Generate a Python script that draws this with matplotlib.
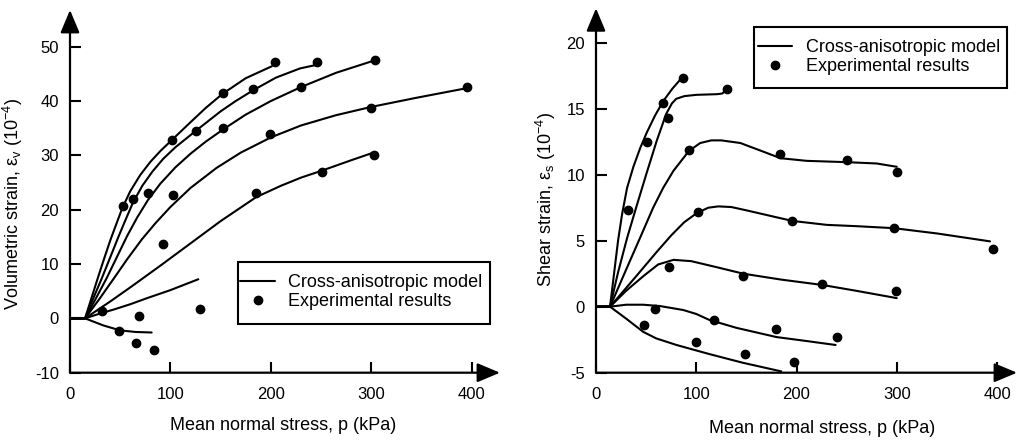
import matplotlib
matplotlib.use("Agg")
import matplotlib.pyplot as plt
from matplotlib.patches import ArrowStyle, Rectangle

plt.rcParams['font.family'] = ['Liberation Sans', 'DejaVu Sans']
plt.rcParams['mathtext.fontset'] = 'custom'
plt.rcParams['mathtext.rm'] = 'Liberation Sans'
plt.rcParams['mathtext.it'] = 'Liberation Sans:italic'
plt.rcParams['axes.unicode_minus'] = False

# ---------------- Left panel: volumetric strain ----------------
vol_A_p = [0, 15, 22, 28, 34, 40, 46, 52.1, 60, 70, 80, 90, 101.3, 120, 135, 151.7, 175, 201]
vol_A_v = [0, 0, 4.1, 7.6, 11.0, 14.3, 17.3, 20.3, 23.4, 26.4, 28.8, 30.8, 32.8, 36.1, 38.7, 41.3, 44.2, 46.4]
vol_B_p = [0, 15, 23, 31.5, 40, 48, 55, 62.7, 72, 82, 93, 105, 125.2, 150, 165, 182.6, 205, 229, 244]
vol_B_v = [0, 0, 3.6, 7.3, 11.2, 14.9, 18.0, 21.3, 24.4, 27.0, 29.4, 31.5, 34.5, 38.1, 40.0, 42.0, 44.3, 46.0, 46.6]
vol_C_p = [0, 15, 25, 36.5, 47, 57, 67, 77.7, 90, 105, 120, 135, 152.7, 175, 200, 230.4, 265, 302]
vol_C_v = [0, 0, 3.4, 7.4, 11.4, 15.2, 18.6, 21.8, 24.8, 27.8, 30.3, 32.5, 34.8, 37.5, 40.0, 42.6, 45.2, 47.4]
vol_D_p = [0, 15, 29, 43.1, 57, 71.4, 85, 100, 120, 146, 170, 200, 230, 265, 299.5, 345, 396]
vol_D_v = [0, 0, 3.5, 7.2, 10.9, 14.5, 17.5, 20.5, 24.0, 27.7, 30.5, 33.3, 35.5, 37.4, 38.9, 40.6, 42.4]
vol_E_p = [0, 15, 40, 60, 90, 120, 150, 185.3, 210, 230, 251, 280, 302]
vol_E_v = [0, 0, 3.1, 5.7, 9.7, 13.8, 17.9, 22.3, 24.4, 25.9, 27.2, 29.1, 30.5]
vol_F_p = [0, 15, 30, 43.1, 60, 76.4, 100, 127.8]
vol_F_v = [0, 0, 0.9, 1.6, 2.6, 3.7, 5.2, 7.2]
vol_G_p = [0, 15, 33.2, 49.8, 65, 81.3]
vol_G_v = [0, 0, -1.3, -2.2, -2.5, -2.6]

vol_exp_p = [52.5, 62.7, 77.7, 101.6, 102.6, 92.9, 125.2, 152.7, 152.7, 182.6, 185.3, 199.2,
             204, 230.4, 245.7, 251, 299.5, 302.8, 303.8, 395.7, 31.5, 69, 129.5, 48.8, 65.7, 84]
vol_exp_v = [20.7, 21.9, 23.0, 32.9, 22.7, 13.6, 34.4, 41.5, 35.1, 42.3, 23.0, 33.9,
             47.1, 42.5, 47.1, 26.9, 38.8, 30.1, 47.5, 42.6, 1.4, 0.4, 1.7, -2.3, -4.5, -5.8]

# ---------------- Right panel: shear strain ----------------
sh_1_p = [0, 14, 18, 22, 26, 31, 37.3, 44, 50.7, 59, 67.3, 76, 84]
sh_1_v = [0, 0, 2.5, 5.0, 7.0, 9.0, 10.6, 12.0, 13.2, 14.5, 15.6, 16.5, 17.2]
sh_2_p = [0, 14, 22, 31, 40, 50, 60.7, 70, 75.7, 80, 88, 100, 120.7, 126, 130.7]
sh_2_v = [0, 0, 2.6, 5.2, 7.5, 10.0, 12.6, 14.6, 15.4, 15.75, 15.95, 16.05, 16.1, 16.15, 16.5]
sh_3_p = [0, 14, 30, 45, 57, 67, 77.3, 92.7, 104, 115, 125, 144, 165, 184, 210, 250, 280, 300]
sh_3_v = [0, 0, 2.8, 5.4, 7.5, 9.0, 10.3, 11.8, 12.4, 12.6, 12.6, 12.4, 11.8, 11.25, 11.05, 10.95, 10.85, 10.6]
sh_4_p = [0, 14, 40, 60, 75, 88, 100.7, 112, 122, 135, 150, 170, 195.7, 230, 260, 297, 340, 393]
sh_4_v = [0, 0, 2.3, 4.1, 5.4, 6.4, 7.1, 7.5, 7.6, 7.55, 7.3, 6.95, 6.5, 6.2, 6.1, 5.95, 5.55, 4.95]
sh_5_p = [0, 14, 30, 47, 62, 77.3, 95, 120, 147, 185, 225.5, 260, 300]
sh_5_v = [0, 0, 1.2, 2.3, 3.2, 3.55, 3.45, 3.0, 2.5, 2.05, 1.65, 1.2, 0.65]
sh_6_p = [0, 14, 30, 47, 63.7, 87, 100, 113, 140, 180, 210, 239]
sh_6_v = [0, 0, 0.15, 0.15, 0.05, -0.25, -0.55, -1.0, -1.6, -2.3, -2.6, -2.9]
sh_7_p = [0, 14, 30, 47, 60, 80.3, 113.6, 146.6, 184.8]
sh_7_v = [0, 0, -0.9, -1.9, -2.4, -2.9, -3.6, -4.25, -4.9]

sh_exp_p = [86.3, 131, 67.3, 72, 50.7, 32.3, 92.7, 184, 250, 300, 101.3, 195.7, 297.3, 396,
            73.3, 146.3, 225.5, 299, 59, 118, 179.3, 240.3, 48.3, 99.7, 148.3, 197.7]
sh_exp_v = [17.3, 16.5, 15.4, 14.3, 12.5, 7.3, 11.9, 11.6, 11.1, 10.2, 7.2, 6.5, 6.0, 4.4,
            3.0, 2.3, 1.7, 1.2, -0.15, -1.0, -1.7, -2.3, -1.4, -2.65, -3.6, -4.2]

x_ticks = [0, 100, 200, 300, 400]
vol_yticks = [-10, 0, 10, 20, 30, 40, 50]
sh_yticks = [-5, 0, 5, 10, 15, 20]

xlabel = "Mean normal stress, p (kPa)"
vol_ylabel = r"Volumetric strain, ε$_\mathrm{v}$ (10$^{-4}$)"
sh_ylabel = r"Shear strain, ε$_\mathrm{s}$ (10$^{-4}$)"
leg_model = "Cross-anisotropic model"
leg_exp = "Experimental results"

W, H = 1019, 441
fig = plt.figure(figsize=(W / 100, H / 100), dpi=100)

LW = 1.5
MS = 6.0


def setup_axes(ax, xlim, ylim, yticks):
    ax.set_xlim(*xlim)
    ax.set_ylim(*ylim)
    for s in ax.spines.values():
        s.set_visible(False)
    ax.set_xticks(x_ticks)
    ax.set_yticks(yticks)
    ax.tick_params(axis='both', direction='in', length=8, width=1.5,
                   labelsize=12, colors='black')
    ax.tick_params(axis='x', pad=10)
    ax.tick_params(axis='y', pad=8)
    style = ArrowStyle('-|>', head_length=1.0, head_width=0.42)
    for end in [(0, 1), (1, 0)]:
        ax.annotate('', xy=end, xycoords='axes fraction', xytext=(0, 0),
                    textcoords='axes fraction',
                    arrowprops=dict(arrowstyle=style, lw=1.6, color='black',
                                    shrinkA=0, shrinkB=0, mutation_scale=14))


def draw_panel(ax, curves, exp_p, exp_v):
    for i, (px, vy) in enumerate(curves):
        ax.plot(px, vy, color='black', lw=LW, solid_capstyle='round',
                solid_joinstyle='round', label=leg_model if i == 0 else None)
    ax.plot(exp_p, exp_v, 'o', color='black', ms=MS, label=leg_exp)


def legend_box(ax, box_px, center_px):
    x0, y0, x1, y1 = box_px
    ax.add_patch(Rectangle((x0 / W, (H - y1) / H), (x1 - x0) / W, (y1 - y0) / H,
                           transform=fig.transFigure, fill=True, facecolor='white',
                           edgecolor='black', lw=1.5, zorder=5, clip_on=False))
    leg = ax.legend(loc='center', bbox_to_anchor=(center_px[0] / W, (H - center_px[1]) / H),
                    bbox_transform=fig.transFigure, fontsize=13, frameon=False,
                    numpoints=1, handlelength=1.9, handletextpad=0.75,
                    borderpad=0.0, labelspacing=0.12)
    leg.set_zorder(6)


# Left axes
axL = fig.add_axes([70 / W, (H - 372.7) / H, 430 / W, 362.7 / H])
setup_axes(axL, (0, 430 / 1.004), (-10, -10 + 362.7 / 5.433), vol_yticks)
draw_panel(axL, [(vol_A_p, vol_A_v), (vol_B_p, vol_B_v), (vol_C_p, vol_C_v),
                 (vol_D_p, vol_D_v), (vol_E_p, vol_E_v), (vol_F_p, vol_F_v),
                 (vol_G_p, vol_G_v)], vol_exp_p, vol_exp_v)
axL.set_xlabel(xlabel, fontsize=13)
axL.set_ylabel(vol_ylabel, fontsize=13)
axL.xaxis.set_label_coords(0.495, -0.122)
axL.xaxis.label.set_va('top')
axL.yaxis.set_label_coords(-0.105, 0.465)
legend_box(axL, (238.3, 261.7, 490, 324), (361.5, 292.0))

# Right axes
axR = fig.add_axes([596 / W, (H - 372.7) / H, 421 / W, 364.4 / H])
setup_axes(axR, (0, 421 / 1.0025), (-5, -5 + 364.4 / 13.2), sh_yticks)
draw_panel(axR, [(sh_1_p, sh_1_v), (sh_2_p, sh_2_v), (sh_3_p, sh_3_v), (sh_4_p, sh_4_v),
                 (sh_5_p, sh_5_v), (sh_6_p, sh_6_v), (sh_7_p, sh_7_v)], sh_exp_p, sh_exp_v)
axR.set_xlabel(xlabel, fontsize=13)
axR.set_ylabel(sh_ylabel, fontsize=13)
axR.xaxis.set_label_coords(0.538, -0.130)
axR.xaxis.label.set_va('top')
axR.yaxis.set_label_coords(-0.090, 0.474)
legend_box(axR, (754.3, 26.7, 1006.7, 88.3), (879.2, 57.0))

fig.savefig("out.png", dpi=100)
